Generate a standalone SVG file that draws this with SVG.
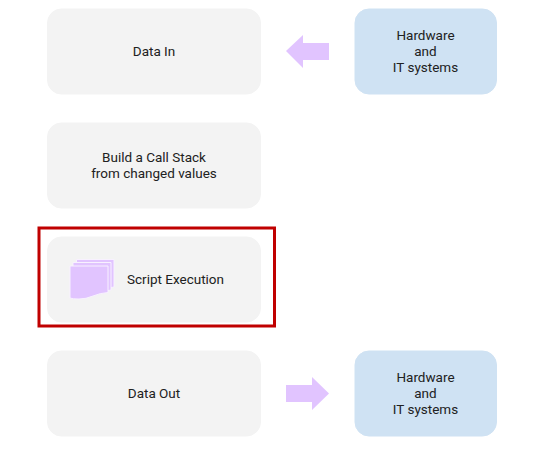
<svg xmlns="http://www.w3.org/2000/svg" width="554" height="455" viewBox="0 0 554 455">
<style>
text{font-family:Roboto,"Liberation Sans",sans-serif;font-size:13.500px;fill:#212121;text-anchor:middle}
.g{fill:#f3f3f3;stroke:#f3f3f3}
.b{fill:#cfe2f3;stroke:#cfe2f3}
.a{fill:#e1c4ff}
.d{fill:#e1c4ff;stroke:#f8f1ff;stroke-width:1}
</style>
<rect width="554" height="455" fill="#fff"/>
<g id="data-in"><rect class="g" x="47.500" y="9" width="213" height="85" rx="14"/><text x="154" y="56">Data In</text></g>
<g id="hardware-top"><rect class="b" x="355" y="9" width="141.500" height="85" rx="14"/><text x="425.500" y="40">Hardware</text><text x="425.500" y="56">and</text><text x="425.500" y="72">IT systems</text></g>
<g id="call-stack"><rect class="g" x="47.500" y="123" width="213" height="85" rx="14"/><text x="154" y="162">Build a Call Stack</text><text x="154" y="178">from changed values</text></g>
<g id="script-execution"><rect class="g" x="47.500" y="237" width="213" height="85" rx="14"/>
<path class="d" d="M76.500 259.500H114V287Q106 288 99 290.500T85 294Q78 294 76.500 293Z"/>
<path class="d" d="M73 262.500H111V290Q103 291 96 293.500T82 297Q75 297 73 296Z"/>
<path class="d" d="M70 266H108V292.500Q100 293 93 296T79 299Q72 299 70 298Z"/>
<text x="175.500" y="284">Script Execution</text></g>
<g id="data-out"><rect class="g" x="47.500" y="351" width="213" height="85" rx="14"/><text x="154" y="398">Data Out</text></g>
<g id="hardware-bottom"><rect class="b" x="355" y="351" width="141.500" height="85" rx="14"/><text x="425.500" y="382">Hardware</text><text x="425.500" y="398">and</text><text x="425.500" y="414">IT systems</text></g>
<g id="connectors">
<path class="a" d="M329 43H303V35L286 51L303 68V60H329Z"/>
<path class="a" d="M286 385H312V377L329 393.500L312 410V402H286Z"/>
</g>
<rect id="highlight" x="39" y="228" width="235.500" height="98" fill="none" stroke="#c00000" stroke-width="3"/>
</svg>
